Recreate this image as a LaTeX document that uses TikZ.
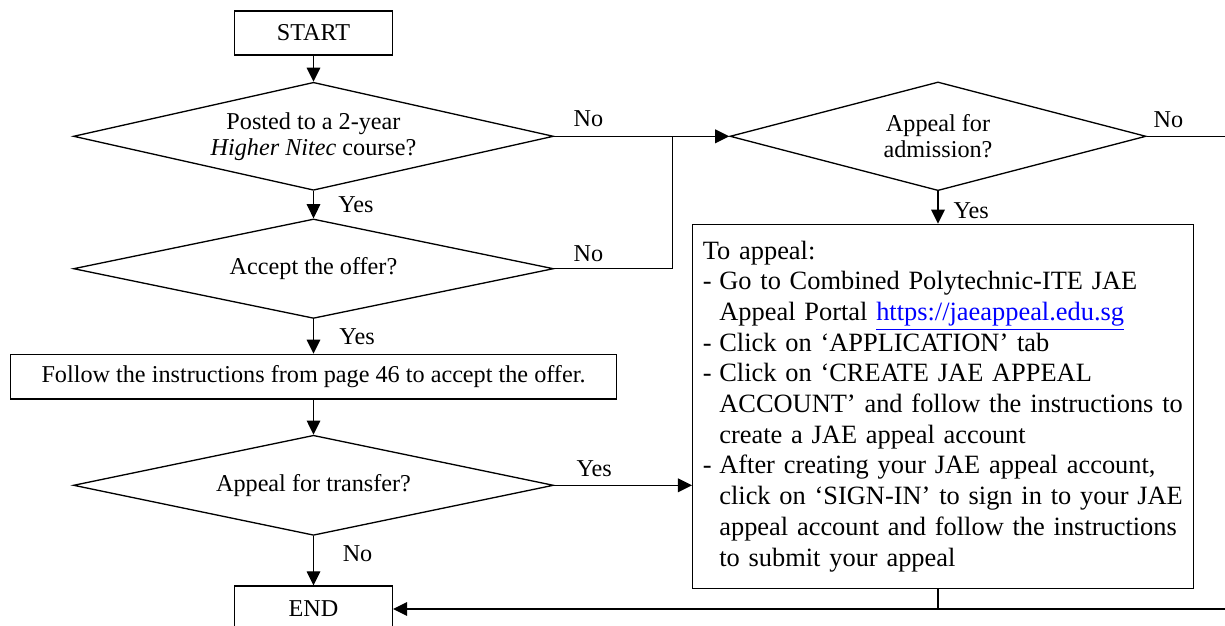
\documentclass[tikz,border=0pt]{standalone}
\usepackage{fontspec}
\setmainfont{Liberation Serif}
\usetikzlibrary{positioning,shapes.geometric,arrows.meta}

\newcommand{\weblink}[1]{\textcolor{blue}{\underline{#1}}}
\newcommand{\itemln}{\makebox[7.5pt][l]{-}}
\newcommand{\contln}{\hspace*{7.5pt}}

\begin{document}
\begin{tikzpicture}[
  x=0.4545pt, y=-0.4545pt,
  every node/.style = {font=\fontsize{11}{11.8}\selectfont},
  stepbox/.style = {shape=rectangle, draw, line width=0.6pt, inner sep=0pt, align=center},
  question/.style = {shape=diamond, draw, aspect=4.5, line width=0.6pt, inner sep=0pt, align=center},
  lbl/.style = {inner sep=0pt},
  arr/.style = {line width=0.6pt, -{Triangle[length=6.4pt,width=6.2pt]}},
  conn/.style = {line width=0.6pt}
    ]
  \useasboundingbox (0,0) rectangle (1225,626);

  % left column
  \node[stepbox, minimum width=71.8pt, minimum height=20pt] (start) at (313.5,33) {START};
  \node[question, minimum width=218.2pt, minimum height=49.1pt] (postd) at (313.5,136.3)
    {Posted to a 2-year\\\textit{Higher Nitec} course?};
  \node[question, minimum width=218.2pt, minimum height=45.2pt] (acceptd) at (313.5,268.7)
    {Accept the offer?};
  \node[stepbox, minimum width=275.7pt, minimum height=20.3pt] (followbox) at (313.5,376.7)
    {Follow the instructions from page 46 to accept the offer.};
  \node[question, minimum width=218.2pt, minimum height=45.5pt] (transferd) at (313.5,485.3)
    {Appeal for transfer?};
  \node[stepbox, minimum width=71.8pt, minimum height=20.9pt] (endbox) at (313.5,609) {END};

  % right column
  \node[question, minimum width=189.1pt, minimum height=49.4pt] (admitd) at (938,136.3)
    {Appeal for\\admission?};
  \node[stepbox, align=left, text width=218.3pt, inner xsep=4.6pt,
        minimum width=227.5pt, minimum height=165.4pt,
        font=\fontsize{12}{13.95}\selectfont] (appealbox) at (943,406.3)
    {To appeal:\\
     \itemln Go to Combined Polytechnic-ITE JAE\\
     \contln Appeal Portal \weblink{https://jaeappeal.edu.sg}\\
     \itemln Click on ‘APPLICATION’ tab\\
     \itemln Click on ‘CREATE JAE APPEAL\\
     \contln ACCOUNT’ and follow the instructions to\\
     \contln create a JAE appeal account\\
     \itemln After creating your JAE appeal account,\\
     \contln click on ‘SIGN-IN’ to sign in to your JAE\\
     \contln appeal account and follow the instructions\\
     \contln to submit your appeal};

  \coordinate (junc) at (672.3,136.3);
  \coordinate (rturn) at (1250,136.3);

  % connectors
  \draw[arr] (start) -- (postd);
  \draw[arr] (postd) -- node[lbl, right=11pt] {Yes} (acceptd);
  \draw[arr] (acceptd) -- node[lbl, right=11.5pt] {Yes} (followbox);
  \draw[arr] (followbox) -- (transferd);
  \draw[arr] (transferd) -- node[lbl, pos=0.35, right=13pt] {No} (endbox);
  \draw[arr] (postd.east) -- (admitd.west);
  \draw[conn] (acceptd.east) -- (acceptd.east -| junc) -- (junc);
  \draw[arr] (admitd.south) -- node[lbl, pos=0.6, right=6.8pt] {Yes} (admitd.south |- appealbox.north);
  \draw[arr] (transferd.east) -- (transferd.east -| appealbox.west);
  \draw[arr] (admitd.east) -- (rturn) |- (endbox.east);
  \draw[conn] (admitd.south |- appealbox.south) -- (admitd.south |- endbox.east);

  % branch labels
  \node[lbl, above right=4pt and 8.6pt of postd.east] {No};
  \node[lbl, above right=3pt and 8.6pt of acceptd.east] {No};
  \node[lbl, above right=3.9pt and 3pt of admitd.east] {No};
  \node[lbl, above right=3.6pt and 10pt of transferd.east] {Yes};
\end{tikzpicture}
\end{document}
